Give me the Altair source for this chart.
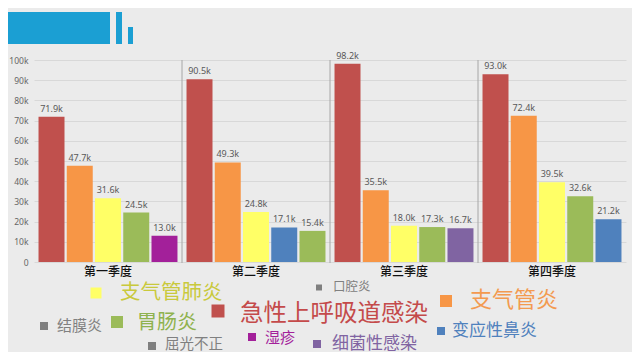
import altair as alt
import pandas as pd

# ---- data ----
quarters = ["第一季度", "第二季度", "第三季度", "第四季度"]
q1_names = ["急性上呼吸道感染", "支气管炎", "支气管肺炎", "胃肠炎", "湿疹"]
q1_values = [71.9, 47.7, 31.6, 24.5, 13.0]
q2_names = ["急性上呼吸道感染", "支气管炎", "支气管肺炎", "变应性鼻炎", "胃肠炎"]
q2_values = [90.5, 49.3, 24.8, 17.1, 15.4]
q3_names = ["急性上呼吸道感染", "支气管炎", "支气管肺炎", "胃肠炎", "细菌性感染"]
q3_values = [98.2, 35.5, 18.0, 17.3, 16.7]
q4_names = ["急性上呼吸道感染", "支气管炎", "支气管肺炎", "胃肠炎", "变应性鼻炎"]
q4_values = [93.0, 72.4, 39.5, 32.6, 21.2]

diseases = ["急性上呼吸道感染", "支气管炎", "支气管肺炎", "胃肠炎", "湿疹",
            "变应性鼻炎", "细菌性感染", "结膜炎", "屈光不正", "口腔炎"]
disease_colors = ["#c0504d", "#f79646", "#ffff66", "#9bbb59", "#a3209a",
                  "#4f81bd", "#8064a2", "#7f7f7f", "#7f7f7f", "#7f7f7f"]
legend_text_colors = ["#c44a4a", "#f39a50", "#c9c93c", "#8fb24e", "#a3209a",
                      "#4f81bd", "#8064a2", "#808080", "#808080", "#808080"]

# ---- legend layout (pixel positions relative to plot origin, not data) ----
legend_sq_x = [184, 412, 62, 83, 218, 407, 283, 10, 118, 285]
legend_sq_y = [251, 241, 233, 262, 277, 271, 284, 266, 286, 227.5]
legend_sq_side = [13, 12, 11, 12, 8, 8, 8, 8, 8, 6]
legend_tx_x = [206, 436, 86, 103, 231, 418, 298, 23, 131, 299]
legend_tx_y = [253.5, 240, 233, 263, 278, 271, 283.5, 266, 285, 227]
legend_font = [23.5, 22, 20.5, 20, 15, 17, 17, 15, 14.5, 12.5]

rows = []
for q, names, vals in zip(quarters, [q1_names, q2_names, q3_names, q4_names],
                          [q1_values, q2_values, q3_values, q4_values]):
    for i, (n, v) in enumerate(zip(names, vals)):
        rows.append({"quarter": q, "rank": i + 1, "disease": n, "value": v,
                     "label": f"{v:.1f}k"})
df = pd.DataFrame(rows)

leg = pd.DataFrame({
    "name": diseases, "sx": legend_sq_x, "sy": legend_sq_y,
    "area": [s * s for s in legend_sq_side], "tx": legend_tx_x,
    "ty": legend_tx_y, "fs": legend_font, "sc": disease_colors,
    "tc": legend_text_colors,
})

FONT = "Noto Sans CJK SC"

xenc = alt.X("quarter:N", sort=quarters,
             scale=alt.Scale(paddingInner=0, paddingOuter=0),
             axis=alt.Axis(title=None, domain=False, ticks=False, labelAngle=0,
                           labelFontSize=12, labelColor="#111111", labelPadding=4,
                           labelFont=FONT, labelFontWeight=500, grid=False))
xoff = alt.XOffset("rank:O", scale=alt.Scale(paddingInner=0.08, paddingOuter=0.16))
yenc = alt.Y("value:Q", scale=alt.Scale(domain=[0, 100], nice=False),
             axis=alt.Axis(title=None, domain=False, ticks=False,
                           values=list(range(0, 101, 10)), labelOverlap=False,
                           labelExpr="datum.value == 0 ? '0' : datum.value + 'k'",
                           labelFontSize=8.5, labelColor="#666666", labelPadding=6,
                           labelFont="Noto Sans",
                           gridColor="#d8d8d8", gridWidth=1))

bars = alt.Chart(df).mark_bar().encode(
    x=xenc, xOffset=xoff, y=yenc,
    color=alt.Color("disease:N", scale=alt.Scale(domain=diseases, range=disease_colors),
                    legend=None),
)
labels = alt.Chart(df).mark_text(baseline="bottom", dy=-3, fontSize=9,
                                 color="#595959", font="Noto Sans").encode(
    x=xenc, xOffset=xoff, y=yenc, text="label:N")

seps = alt.Chart(pd.DataFrame({"quarter": quarters[1:]})).mark_rule(
    color="#a6a6a6", strokeWidth=1).encode(
    x=alt.X("quarter:N", sort=quarters, bandPosition=0,
            scale=alt.Scale(paddingInner=0, paddingOuter=0),
            axis=alt.Axis(title=None, domain=False, ticks=False, labelAngle=0,
                          labelFontSize=12, labelColor="#111111", labelPadding=4,
                          labelFont=FONT, labelFontWeight=500, grid=False)),
    y=alt.value(0), y2=alt.value(203))

main = alt.layer(bars, labels, seps)

deco_df = pd.DataFrame({"x": [-34, 82, 94], "x2": [76, 88, 99],
                        "y": [-48, -48, -33], "y2": [-16, -16, -16]})
deco = alt.Chart(deco_df).mark_rect(color="#1b9fd3").encode(
    x=alt.X("x:Q", scale=None, axis=None), x2="x2",
    y=alt.Y("y:Q", scale=None, axis=None), y2="y2")

squares = alt.Chart(leg).mark_square(opacity=1, filled=True).encode(
    x=alt.X("sx:Q", scale=None, axis=None), y=alt.Y("sy:Q", scale=None, axis=None),
    size=alt.Size("area:Q", scale=None, legend=None),
    color=alt.Color("sc:N", scale=None, legend=None))
texts = alt.Chart(leg).mark_text(align="left", baseline="middle", font=FONT).encode(
    x=alt.X("tx:Q", scale=None, axis=None), y=alt.Y("ty:Q", scale=None, axis=None),
    size=alt.Size("fs:Q", scale=None, legend=None),
    color=alt.Color("tc:N", scale=None, legend=None),
    text="name:N")

chart = alt.layer(main, deco, squares, texts).resolve_scale(
    x="independent", y="independent", color="independent", size="independent"
).properties(
    width=592, height=202,
    autosize=alt.AutoSizeParams(type="none"),
    padding={"left": 26, "top": 52, "right": 6, "bottom": 90},
    background="#ebebeb",
).configure_view(stroke=None)

chart.save("out.html", embed_options={"renderer": "svg", "actions": False})
